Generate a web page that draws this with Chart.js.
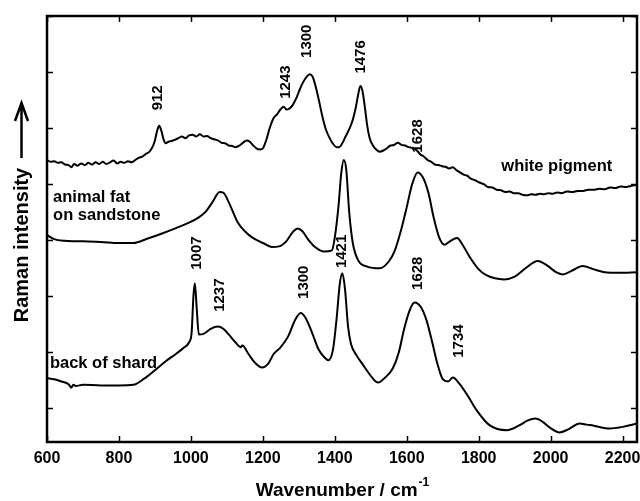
<!DOCTYPE html>
<html>
<head>
<meta charset="utf-8">
<script src="https://cdn.jsdelivr.net/npm/chart.js@4/dist/chart.umd.min.js"></script>
<style>
  html, body { margin: 0; padding: 0; background: #fff; }
  #wrap { width: 640px; height: 501px; }
</style>
</head>
<body>
<div id="wrap"><canvas id="c" width="640" height="501"></canvas></div>
<script>
// Raman spectra, stacked with vertical offsets (arbitrary intensity units)

// white pigment
const pigmentWn = [600,610,620,630,640,650,660,668,675,685,695,705,715,725,735,745,755,765,775,785,795,805,815,825,835,845,855,865,875,885,893,900,906,912,918,924,930,938,946,955,965,975,985,995,1005,1015,1025,1035,1045,1055,1065,1075,1085,1095,1105,1115,1125,1135,1145,1155,1163,1172,1182,1192,1200,1210,1220,1230,1240,1250,1258,1266,1274,1282,1292,1302,1312,1322,1330,1338,1346,1355,1365,1375,1385,1395,1405,1412,1420,1430,1440,1450,1458,1465,1471,1477,1484,1490,1497,1505,1515,1525,1535,1545,1555,1565,1575,1585,1595,1605,1615,1628,1638,1648,1658,1668,1678,1688,1698,1708,1718,1728,1738,1748,1758,1768,1778,1790,1802,1814,1826,1838,1850,1862,1874,1886,1898,1910,1922,1934,1946,1958,1970,1982,1994,2006,2018,2030,2045,2060,2075,2090,2105,2120,2135,2150,2165,2180,2195,2210,2225,2240];
const pigmentI  = [4.43,4.40,4.41,4.38,4.39,4.35,4.34,4.30,4.36,4.33,4.37,4.34,4.38,4.35,4.39,4.36,4.40,4.36,4.39,4.42,4.37,4.40,4.38,4.41,4.39,4.43,4.47,4.49,4.54,4.58,4.66,4.78,4.95,5.04,4.95,4.80,4.73,4.76,4.77,4.79,4.82,4.85,4.82,4.87,4.88,4.85,4.89,4.85,4.86,4.82,4.80,4.78,4.74,4.73,4.69,4.68,4.66,4.69,4.74,4.78,4.76,4.70,4.64,4.62,4.64,4.80,5.02,5.18,5.25,5.34,5.38,5.33,5.35,5.40,5.52,5.68,5.82,5.92,5.96,5.92,5.76,5.52,5.22,4.98,4.83,4.72,4.66,4.66,4.72,4.85,4.98,5.15,5.36,5.60,5.75,5.66,5.35,5.05,4.82,4.70,4.62,4.58,4.60,4.64,4.69,4.70,4.74,4.70,4.69,4.66,4.65,4.60,4.53,4.49,4.43,4.40,4.35,4.34,4.32,4.31,4.28,4.30,4.25,4.21,4.17,4.15,4.10,4.07,4.03,4.00,3.95,3.94,3.90,3.89,3.86,3.87,3.84,3.84,3.81,3.80,3.82,3.81,3.83,3.82,3.84,3.83,3.85,3.84,3.87,3.86,3.88,3.88,3.90,3.90,3.92,3.91,3.94,3.93,3.96,3.95,3.97,3.99,4.02];

// animal fat on sandstone
const fatWn = [600,620,650,700,750,800,840,880,920,960,990,1020,1040,1060,1080,1090,1105,1130,1150,1170,1200,1225,1245,1265,1285,1297,1310,1325,1345,1370,1392,1400,1410,1418,1425,1432,1440,1450,1465,1490,1525,1550,1567,1585,1600,1615,1630,1645,1660,1675,1690,1705,1720,1740,1755,1775,1800,1820,1845,1870,1900,1930,1964,1990,2015,2033,2060,2089,2120,2150,2190,2240];
const fatI  = [3.09,3.02,2.99,2.98,2.97,2.95,2.95,3.03,3.12,3.22,3.30,3.40,3.50,3.68,3.86,3.85,3.68,3.32,3.16,3.05,2.95,2.88,2.89,2.98,3.16,3.21,3.16,3.02,2.88,2.80,2.82,3.05,3.59,4.20,4.43,4.25,3.50,2.95,2.64,2.53,2.50,2.62,2.82,3.20,3.59,4.00,4.21,4.12,3.85,3.40,3.05,2.92,2.98,3.04,2.92,2.70,2.48,2.38,2.32,2.30,2.35,2.50,2.63,2.55,2.43,2.39,2.46,2.54,2.48,2.43,2.42,2.43];

// back of shard
const shardWn = [600,620,640,660,668,673,680,700,750,800,840,870,900,930,960,980,995,1002,1007,1011,1016,1022,1035,1055,1075,1090,1105,1125,1138,1143,1160,1180,1198,1215,1230,1248,1270,1290,1305,1318,1335,1355,1370,1382,1395,1405,1414,1421,1428,1437,1445,1460,1478,1500,1520,1540,1561,1578,1592,1608,1622,1640,1655,1670,1685,1700,1715,1728,1745,1770,1795,1830,1878,1914,1935,1958,1980,1997,2025,2050,2081,2100,2120,2164,2200,2240];
const shardI  = [0.54,0.52,0.48,0.43,0.37,0.42,0.40,0.42,0.41,0.41,0.42,0.53,0.68,0.84,0.98,1.08,1.18,1.35,2.00,2.23,1.80,1.32,1.33,1.42,1.46,1.42,1.32,1.17,1.09,1.12,0.97,0.80,0.73,0.80,0.97,1.08,1.28,1.58,1.70,1.62,1.38,1.05,0.92,0.86,1.05,1.60,2.23,2.41,2.15,1.45,1.15,0.95,0.78,0.58,0.46,0.55,0.71,1.00,1.40,1.75,1.89,1.80,1.57,1.20,0.80,0.52,0.48,0.55,0.45,0.22,-0.04,-0.30,-0.39,-0.30,-0.22,-0.18,-0.25,-0.34,-0.43,-0.37,-0.27,-0.29,-0.31,-0.36,-0.33,-0.27];

// axis ticks
const xTickValues = [600, 800, 1000, 1200, 1400, 1600, 1800, 2000, 2200];
const yTickValues = [0, 1, 2, 3, 4, 5, 6, 7];

// peak assignments: text, wavenumber and intensity where the label is centred
const peakText = ['912','1243','1300','1476','1628','1007','1237','1300','1421','1628','1734'];
const peakWn   = [908, 1264, 1322, 1472, 1631, 1017, 1081, 1314, 1419, 1631, 1744];
const peakAt   = [5.54, 5.82, 6.55, 6.27, 4.86, 2.77, 2.02, 2.25, 2.80, 2.41, 1.20];

// sample names
const sampleText  = ['white pigment', 'animal fat', 'on sandstone', 'back of shard'];
const sampleWn    = [2017, 617, 617, 608];
const sampleAt    = [4.32, 3.77, 3.45, 0.80];
const sampleAlign = ['center', 'left', 'left', 'left'];

const FONT = '"Liberation Sans", Arial, Helvetica, sans-serif';

function pts(xs, ys) { return xs.map((x, i) => ({ x: x, y: ys[i] })); }

const frame = {
  id: 'frame',
  afterDatasetsDraw(chart) {
    const { ctx, chartArea: a, scales: { x, y } } = chart;
    ctx.save();
    ctx.strokeStyle = '#000';
    // inward tick marks on all four sides
    ctx.lineWidth = 1.5;
    const tl = 6;
    ctx.beginPath();
    x.ticks.forEach(t => {
      const px = Math.round(x.getPixelForValue(t.value)) + 0.5;
      ctx.moveTo(px, a.bottom); ctx.lineTo(px, a.bottom - tl);
      ctx.moveTo(px, a.top); ctx.lineTo(px, a.top + tl);
    });
    y.ticks.forEach(t => {
      const py = Math.round(y.getPixelForValue(t.value)) + 0.5;
      ctx.moveTo(a.left, py); ctx.lineTo(a.left + tl, py);
      ctx.moveTo(a.right, py); ctx.lineTo(a.right - tl, py);
    });
    ctx.stroke();
    // plot frame
    ctx.lineWidth = 2.5;
    ctx.strokeRect(a.left, a.top, a.right - a.left, a.bottom - a.top);

    // peak labels (rotated)
    ctx.fillStyle = '#000';
    ctx.font = 'bold 15px ' + FONT;
    ctx.textAlign = 'center';
    ctx.textBaseline = 'middle';
    peakText.forEach((t, i) => {
      ctx.save();
      ctx.translate(x.getPixelForValue(peakWn[i]), y.getPixelForValue(peakAt[i]));
      ctx.rotate(-Math.PI / 2);
      ctx.fillText(t, 0, 0);
      ctx.restore();
    });
    // sample names
    ctx.font = 'bold 16.5px ' + FONT;
    sampleText.forEach((t, i) => {
      ctx.textAlign = sampleAlign[i];
      ctx.fillText(t, x.getPixelForValue(sampleWn[i]), y.getPixelForValue(sampleAt[i]));
    });

    // x axis title with superscript
    const cx = (a.left + a.right) / 2;
    ctx.font = 'bold 19px ' + FONT;
    const main = 'Wavenumber / cm';
    const sup = '-1';
    const wMain = ctx.measureText(main).width;
    ctx.font = 'bold 12px ' + FONT;
    const wSup = ctx.measureText(sup).width;
    const x0 = cx - (wMain + wSup) / 2;
    ctx.textAlign = 'left';
    ctx.textBaseline = 'alphabetic';
    ctx.font = 'bold 19px ' + FONT;
    ctx.fillText(main, x0, 496);
    ctx.font = 'bold 12px ' + FONT;
    ctx.fillText(sup, x0 + wMain + 1, 486);

    // y axis title with arrow
    ctx.save();
    ctx.translate(28, 245);
    ctx.rotate(-Math.PI / 2);
    ctx.font = 'bold 20px ' + FONT;
    ctx.textAlign = 'center';
    ctx.textBaseline = 'alphabetic';
    ctx.fillText('Raman intensity', 0, 0);
    ctx.restore();
    ctx.lineWidth = 2.5;
    ctx.beginPath();
    ctx.moveTo(21.5, 158); ctx.lineTo(21.5, 104);
    ctx.moveTo(15, 121); ctx.lineTo(21.5, 103); ctx.lineTo(28, 121);
    ctx.stroke();
    ctx.restore();
  }
};

const lineStyle = {
  borderColor: '#000', borderWidth: 2, pointRadius: 0,
  cubicInterpolationMode: 'monotone', fill: false
};

new Chart(document.getElementById('c'), {
  type: 'line',
  data: {
    datasets: [
      Object.assign({ label: 'white pigment', data: pts(pigmentWn, pigmentI) }, lineStyle),
      Object.assign({ label: 'animal fat on sandstone', data: pts(fatWn, fatI) }, lineStyle),
      Object.assign({ label: 'back of shard', data: pts(shardWn, shardI) }, lineStyle)
    ]
  },
  options: {
    responsive: false,
    animation: false,
    devicePixelRatio: 1,
    layout: { padding: { top: 16, right: 3, left: 0, bottom: 0 } },
    plugins: { legend: { display: false }, tooltip: { enabled: false } },
    scales: {
      x: {
        type: 'linear', min: 600, max: 2240,
        grid: { display: false, drawTicks: false }, border: { display: false },
        afterBuildTicks(s) { s.ticks = xTickValues.map(v => ({ value: v })); },
        ticks: {
          autoSkip: false, maxRotation: 0,
          color: '#000', padding: 7,
          font: { family: FONT, size: 16, weight: 'bold' },
          callback: v => String(v)
        },
        afterFit(s) { s.height = 59; s.paddingLeft = 0; s.paddingRight = 0; }
      },
      y: {
        min: -0.6, max: 7,
        grid: { display: false, drawTicks: false }, border: { display: false },
        afterBuildTicks(s) { s.ticks = yTickValues.map(v => ({ value: v })); },
        ticks: { display: false },
        afterFit(s) { s.width = 47; s.paddingTop = 0; s.paddingBottom = 0; }
      }
    }
  },
  plugins: [frame]
});
</script>
</body>
</html>
